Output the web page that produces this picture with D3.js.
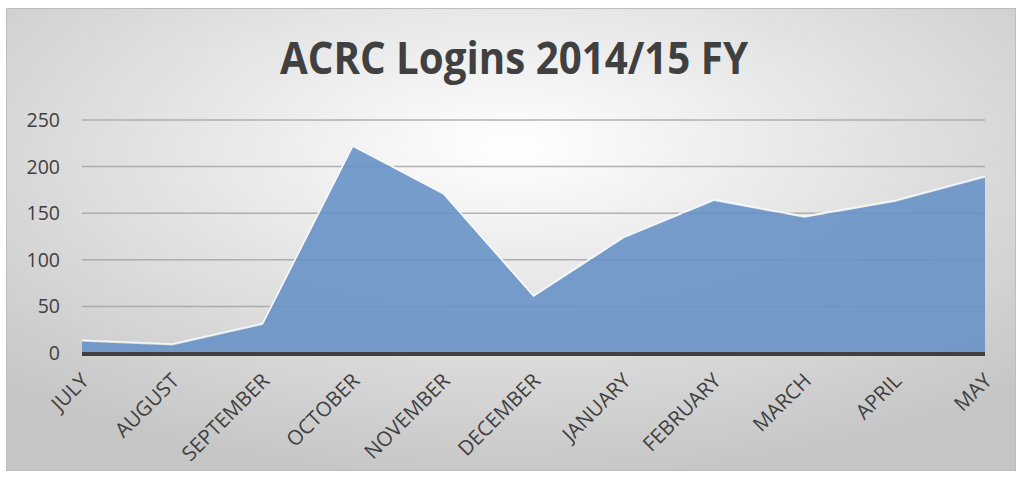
<!DOCTYPE html>
<html>
<head>
<meta charset="utf-8">
<title>ACRC Logins</title>
<script src="https://d3js.org/d3.v7.min.js"></script>
<style>
  body { margin: 0; background: #fff; }
  svg { display: block; }
  text { font-family: "Open Sans", "Liberation Sans", sans-serif; fill: #404040; }
</style>
</head>
<body>
<svg id="chart" width="1022" height="487"></svg>
<script>
// data
const months = ["JULY", "AUGUST", "SEPTEMBER", "OCTOBER", "NOVEMBER", "DECEMBER",
                "JANUARY", "FEBRUARY", "MARCH", "APRIL", "MAY"];
const logins = [12, 8, 30, 221, 170, 60, 123, 163, 145, 162, 188];
const yTicks = [0, 50, 100, 150, 200, 250];

const svg = d3.select("#chart");

// chart background: soft radial gradient like Office
const defs = svg.append("defs");
const grad = defs.append("radialGradient")
    .attr("id", "bg")
    .attr("cx", "50%").attr("cy", "30%").attr("r", "72%");
grad.append("stop").attr("offset", "0%").attr("stop-color", "#ffffff");
grad.append("stop").attr("offset", "100%").attr("stop-color", "#c6c6c6");

svg.append("rect")
    .attr("x", 6.5).attr("y", 8.5)
    .attr("width", 1009).attr("height", 462)
    .attr("fill", "url(#bg)")
    .attr("stroke", "#bdbdbd");

const x = d3.scalePoint().domain(months).range([82, 985]);
const y = d3.scaleLinear().domain([0, 250]).range([353, 120]);

// gridlines
svg.append("g")
    .selectAll("line")
    .data(yTicks.filter(d => d > 0))
    .join("line")
    .attr("x1", 82).attr("x2", 985)
    .attr("y1", d => y(d)).attr("y2", d => y(d))
    .attr("stroke", "#a0a0a0")
    .attr("stroke-opacity", 0.8)
    .attr("stroke-width", 1.5);

// area
const area = d3.area()
    .x((d, i) => x(months[i]))
    .y0(y(0))
    .y1(d => y(d));
svg.append("path")
    .datum(logins)
    .attr("d", area)
    .attr("fill", "#6792c6")
    .attr("fill-opacity", 0.9);

const line = d3.line()
    .x((d, i) => x(months[i]))
    .y(d => y(d));
svg.append("path")
    .datum(logins)
    .attr("d", line)
    .attr("fill", "none")
    .attr("stroke", "#f4f8fc")
    .attr("stroke-width", 1.6)
    .attr("transform", "translate(0,-1.5)");

// x axis line
svg.append("line")
    .attr("x1", 82).attr("x2", 985)
    .attr("y1", y(0) + 1).attr("y2", y(0) + 1)
    .attr("stroke", "#404040")
    .attr("stroke-width", 4);

// y labels
svg.append("g")
    .selectAll("text")
    .data(yTicks)
    .join("text")
    .attr("x", 60)
    .attr("y", d => y(d))
    .attr("dy", "0.36em")
    .attr("text-anchor", "end")
    .style("font-size", "19.5px")
    .text(d => d);

// x labels rotated 45 degrees
svg.append("g")
    .selectAll("text")
    .data(months)
    .join("text")
    .attr("transform", d => `translate(${x(d) + 3},${377}) rotate(-45)`)
    .attr("text-anchor", "end")
    .attr("dy", "0.35em")
    .style("font-size", "20.5px")
    .text(d => d);

// title
svg.append("text")
    .attr("x", 514)
    .attr("y", 74)
    .attr("text-anchor", "middle")
    .attr("textLength", 468)
    .attr("lengthAdjust", "spacingAndGlyphs")
    .style("font-family", "'Liberation Sans Narrow', 'Open Sans', sans-serif")
    .style("font-weight", "bold")
    .style("font-size", "45px")
    .style("fill", "#404040")
    .text("ACRC Logins 2014/15 FY");
</script>
</body>
</html>
